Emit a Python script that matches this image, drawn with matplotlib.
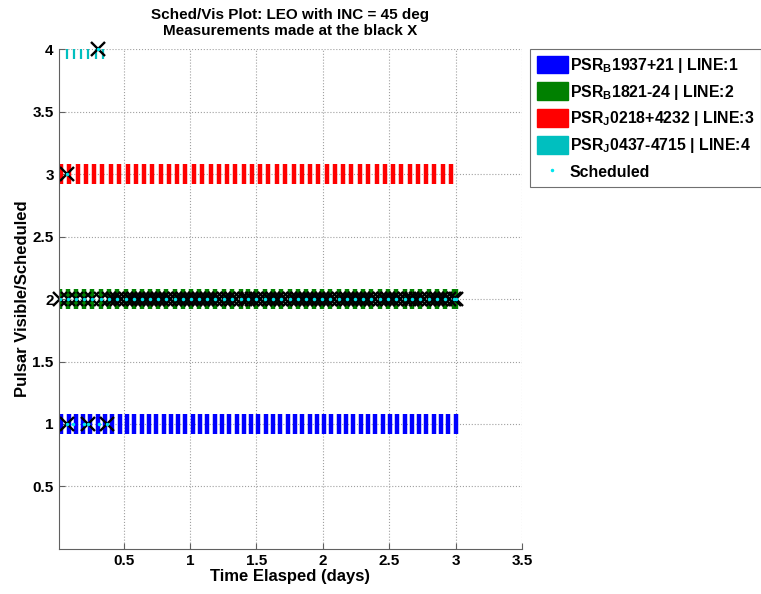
import matplotlib.pyplot as plt
from matplotlib.patches import Patch
from matplotlib.lines import Line2D

plt.rcParams['font.family'] = ['Liberation Sans', 'DejaVu Sans']
plt.rcParams['font.weight'] = 'bold'
plt.rcParams['mathtext.fontset'] = 'custom'
plt.rcParams['mathtext.bf'] = 'Liberation Sans:bold'
plt.rcParams['mathtext.rm'] = 'Liberation Sans:bold'

# visibility windows (days) for each pulsar line
vis_1 = [0.03, 0.085, 0.14, 0.195, 0.25, 0.305, 0.36, 0.415, 0.47, 0.525, 0.58,
         0.635, 0.69, 0.745, 0.80, 0.855, 0.91, 0.965, 1.02, 1.075, 1.13, 1.185,
         1.24, 1.295, 1.35, 1.405, 1.46, 1.515, 1.57, 1.625, 1.68, 1.735, 1.79,
         1.845, 1.90, 1.955, 2.01, 2.065, 2.12, 2.175, 2.23, 2.285, 2.34, 2.395,
         2.45, 2.505, 2.56, 2.615, 2.67, 2.725, 2.78, 2.835, 2.89, 2.945, 3.0]
vis_2 = [0.02, 0.08, 0.14, 0.205, 0.265, 0.33, 0.39, 0.45, 0.515, 0.575, 0.635,
         0.70, 0.76, 0.82, 0.885, 0.945, 1.005, 1.07, 1.13, 1.19, 1.255, 1.315,
         1.38, 1.44, 1.50, 1.565, 1.625, 1.685, 1.75, 1.81, 1.87, 1.935, 1.995,
         2.055, 2.12, 2.18, 2.245, 2.305, 2.365, 2.43, 2.49, 2.55, 2.615, 2.675,
         2.735, 2.80, 2.86, 2.92, 2.985, 3.0]
vis_3 = [0.03, 0.09, 0.155, 0.215, 0.28, 0.34, 0.405, 0.465, 0.53, 0.59, 0.655,
         0.715, 0.78, 0.84, 0.905, 0.965, 1.03, 1.09, 1.155, 1.215, 1.28, 1.34,
         1.405, 1.465, 1.53, 1.59, 1.655, 1.715, 1.78, 1.84, 1.905, 1.965, 2.03,
         2.09, 2.155, 2.215, 2.28, 2.34, 2.405, 2.465, 2.53, 2.59, 2.655, 2.715,
         2.78, 2.84, 2.905, 2.965]
vis_4 = [0.07, 0.125, 0.18, 0.235, 0.29, 0.345]

# scheduled times (cyan dots) and measurements (black X)
sched_1 = [0.072, 0.12, 0.2, 0.235, 0.315, 0.378]
meas_1 = [0.072, 0.235, 0.378]
sched_2 = vis_2
meas_2 = [0.02, 0.08, 0.14, 0.205, 0.265, 0.33, 0.39, 0.42, 0.45, 0.48, 0.515,
          0.545, 0.575, 0.605, 0.635, 0.665, 0.70, 0.73, 0.76, 0.79, 0.82, 0.85,
          0.885, 0.915, 0.945, 0.975, 1.005, 1.035, 1.07, 1.10, 1.13, 1.16, 1.19,
          1.22, 1.255, 1.285, 1.315, 1.345, 1.38, 1.41, 1.44, 1.47, 1.50, 1.53,
          1.565, 1.595, 1.625, 1.655, 1.685, 1.715, 1.75, 1.78, 1.81, 1.84, 1.87,
          1.90, 1.935, 1.965, 1.995, 2.025, 2.055, 2.085, 2.12, 2.15, 2.18, 2.21,
          2.245, 2.275, 2.305, 2.335, 2.365, 2.395, 2.43, 2.46, 2.49, 2.52, 2.55,
          2.58, 2.615, 2.645, 2.675, 2.705, 2.735, 2.765, 2.80, 2.83, 2.86, 2.89,
          2.92, 2.95, 2.985, 3.0]
sched_3 = [0.07]
meas_3 = [0.07]
sched_4 = [0.31]
meas_4 = [0.31]

names = ['PSR$_\\mathbf{B}$1937+21 | LINE:1', 'PSR$_\\mathbf{B}$1821-24 | LINE:2',
         'PSR$_\\mathbf{J}$0218+4232 | LINE:3', 'PSR$_\\mathbf{J}$0437-4715 | LINE:4']
colors = ['#0000ff', '#008000', '#ff0000', '#00bfbf']

fig = plt.figure(figsize=(7.61, 5.94), dpi=100)
ax = fig.add_axes([0.077, 0.076, 0.609, 0.841])

vis = [vis_1, vis_2, vis_3, vis_4]
widths = [3.2, 3.2, 3.2, 1.6]
for i in range(4):
    ax.plot(vis[i], [i + 1] * len(vis[i]), '|', color=colors[i], ms=14.5, mew=widths[i])

sched = [sched_1, sched_2, sched_3, sched_4]
meas = [meas_1, meas_2, meas_3, meas_4]
for i in range(4):
    ax.plot(meas[i], [i + 1] * len(meas[i]), 'x', color='black', ms=10, mew=1.7, clip_on=False)
    ax.plot(sched[i], [i + 1] * len(sched[i]), '.', color='#00e5ee', ms=3, clip_on=False)

ax.set_xlim(0.01, 3.5)
ax.set_ylim(0, 4)
ax.set_xticks([0.5, 1, 1.5, 2, 2.5, 3, 3.5])
ax.set_yticks([0.5, 1, 1.5, 2, 2.5, 3, 3.5, 4])
ax.set_xticklabels(['0.5', '1', '1.5', '2', '2.5', '3', '3.5'])
ax.set_yticklabels(['0.5', '1', '1.5', '2', '2.5', '3', '3.5', '4'])
ax.grid(True, linestyle=':', color='#a0a0a0', linewidth=0.8)
ax.set_axisbelow(True)
ax.spines['top'].set_visible(False)
ax.spines['right'].set_visible(False)
for s in ['left', 'bottom']:
    ax.spines[s].set_color('#606060')
ax.tick_params(direction='in', length=4, color='#606060', labelsize=11)

ax.set_title('Sched/Vis Plot: LEO with INC = 45 deg\nMeasurements made at the black X',
             fontsize=11, fontweight='bold', pad=10)
ax.set_xlabel('Time Elasped (days)', fontsize=12, fontweight='bold', labelpad=1)
ax.set_ylabel('Pulsar Visible/Scheduled', fontsize=12, fontweight='bold', labelpad=2)

handles = [Patch(facecolor=c, edgecolor=c) for c in colors]
handles.append(Line2D([], [], marker='.', color='#00e5ee', ls='none', ms=3))
leg = fig.legend(handles, names + ['Scheduled'], loc='upper left',
                 bbox_to_anchor=(0.697, 0.917), fontsize=11.4, fancybox=False,
                 edgecolor='#707070', handlelength=1.95, handleheight=1.35,
                 handletextpad=0.15, labelspacing=0.48, borderpad=0.4,
                 borderaxespad=0, framealpha=1)
leg.get_frame().set_linewidth(0.8)

fig.savefig('out.png', dpi=100)
